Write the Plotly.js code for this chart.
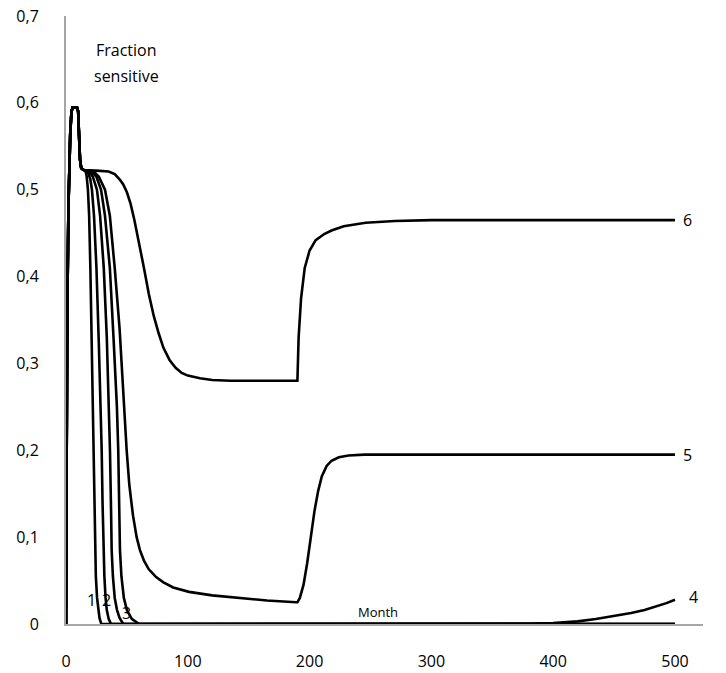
<!DOCTYPE html>
<html>
<head>
<meta charset="utf-8">
<script src="https://cdn.plot.ly/plotly-3.0.1.min.js"></script>
<style>html,body{margin:0;padding:0;background:#fff;}#chart{width:726px;height:673px;}</style>
</head>
<body>
<div id="chart"></div>
<script>
// Shared start (all curves overlap here)
const startX = [0, 0.5, 1, 2, 3, 3.5, 4.5, 5.5, 9, 10, 10.5, 11, 11.5, 12.5, 14, 16];
const startY = [0, 0.2, 0.35, 0.48, 0.54, 0.565, 0.59, 0.595, 0.595, 0.59, 0.57, 0.55, 0.535, 0.525, 0.523, 0.522];

const c1X = [17, 18, 19, 20, 21, 22, 22.4, 23, 23.8, 24.5, 25.5, 26.5, 27.5, 29, 500];
const c1Y = [0.515, 0.5, 0.47, 0.41, 0.32, 0.24, 0.2, 0.14, 0.085, 0.055, 0.03, 0.016, 0.007, 0, 0];

const c2X = [18, 20, 21.3, 23, 25, 27, 28.5, 29.3, 30, 30.6, 31.5, 32.5, 33.5, 35, 37, 500];
const c2Y = [0.52, 0.512, 0.5, 0.47, 0.41, 0.32, 0.25, 0.2, 0.14, 0.085, 0.055, 0.03, 0.016, 0.006, 0, 0];

const c3X = [19, 22, 25.4, 28, 31, 33.5, 35.3, 36.1, 37, 37.5, 38.5, 40, 41.9, 44, 47, 500];
const c3Y = [0.521, 0.515, 0.5, 0.47, 0.41, 0.33, 0.25, 0.2, 0.13, 0.085, 0.055, 0.03, 0.016, 0.007, 0, 0];

const c4X = [20, 25, 28.8, 32, 36, 39, 41.8, 42.9, 43.7, 44.3, 45.5, 47.5, 50, 54, 60, 350, 380, 400, 420, 435, 450, 464, 475, 485, 493, 500];
const c4Y = [0.522, 0.515, 0.5, 0.47, 0.41, 0.33, 0.25, 0.2, 0.14, 0.085, 0.055, 0.03, 0.016, 0.006, 0, 0, 0.0004, 0.0012, 0.003, 0.0058, 0.009, 0.0126, 0.016, 0.02, 0.024, 0.028];

const c5X = [22, 27, 32, 36, 40, 44, 47, 49.8, 52, 55, 58, 60.7, 64, 68, 74, 80, 88, 101, 120, 142, 165, 189, 190, 192, 195, 198, 201, 204, 207, 210, 214, 218, 224, 232, 245, 260, 500];
const c5Y = [0.522, 0.515, 0.5, 0.47, 0.41, 0.34, 0.26, 0.2, 0.16, 0.125, 0.1, 0.085, 0.073, 0.063, 0.054, 0.048, 0.042, 0.037, 0.033, 0.03, 0.027, 0.025, 0.025, 0.03, 0.045, 0.07, 0.1, 0.13, 0.153, 0.17, 0.182, 0.188, 0.192, 0.194, 0.195, 0.195, 0.195];

const c6X = [25, 35, 40, 44, 47, 50, 53, 56, 60, 64, 68, 72, 76, 80, 85, 90, 95, 100, 110, 120, 135, 150, 189, 190, 191, 193, 196, 200, 205, 212, 218, 228, 246, 270, 300, 500];
const c6Y = [0.522, 0.521, 0.518, 0.512, 0.506, 0.497, 0.484, 0.466, 0.44, 0.41, 0.38, 0.355, 0.335, 0.318, 0.304, 0.295, 0.289, 0.286, 0.283, 0.281, 0.28, 0.28, 0.28, 0.28, 0.33, 0.375, 0.41, 0.43, 0.442, 0.449, 0.453, 0.458, 0.462, 0.464, 0.465, 0.465];

const seriesNames = ['1', '2', '3', '4', '5', '6'];
const xTickVals = [0, 100, 200, 300, 400, 500];
const xTickText = ['0', '100', '200', '300', '400', '500'];
const yTickVals = [0, 0.1, 0.2, 0.3, 0.4, 0.5, 0.6, 0.7];
const yTickText = ['0', '0,1', '0,2', '0,3', '0,4', '0,5', '0,6', '0,7'];

// Curve label positions (data units)
const labelText = ['1', '2', '3', '4', '5', '6'];
const labelX = [21.3, 33.6, 50, 515, 510.5, 510];
const labelY = [0.028, 0.028, 0.013, 0.031, 0.195, 0.465];

const allX = [c1X, c2X, c3X, c4X, c5X, c6X];
const allY = [c1Y, c2Y, c3Y, c4Y, c5Y, c6Y];

const font = 'Open Sans, sans-serif';

const traces = allX.map((xs, i) => ({
  x: startX.concat(xs),
  y: startY.concat(allY[i]),
  type: 'scatter',
  mode: 'lines',
  name: seriesNames[i],
  line: {color: '#000', width: 2.6},
  hoverinfo: 'skip'
}));

const annotations = labelText.map((t, i) => ({
  x: labelX[i], y: labelY[i], xref: 'x', yref: 'y',
  text: t, showarrow: false,
  xanchor: 'center', yanchor: 'middle',
  font: {family: font, size: 16, color: '#000'}
}));
annotations.push({
  x: 50, y: 0.661, xref: 'x', yref: 'y',
  text: 'Fraction', showarrow: false,
  xanchor: 'center', yanchor: 'middle',
  font: {family: font, size: 16, color: '#000'}
});
annotations.push({
  x: 50, y: 0.631, xref: 'x', yref: 'y',
  text: 'sensitive', showarrow: false,
  xanchor: 'center', yanchor: 'middle',
  font: {family: font, size: 16, color: '#000'}
});
annotations.push({
  x: 256, y: 0.014, xref: 'x', yref: 'y',
  text: 'Month', showarrow: false,
  xanchor: 'center', yanchor: 'middle',
  font: {family: font, size: 13, color: '#000'}
});

const layout = {
  width: 726, height: 673,
  margin: {l: 66, r: 23, t: 16, b: 49},
  paper_bgcolor: '#fff', plot_bgcolor: '#fff',
  showlegend: false,
  annotations: annotations,
  xaxis: {
    range: [0, 523],
    tickvals: xTickVals, ticktext: xTickText,
    showgrid: false, zeroline: false,
    showline: true, linecolor: '#a6a6a6', linewidth: 1.5,
    ticks: '', ticklabelstandoff: 22,
    tickfont: {family: font, size: 16, color: '#000'}
  },
  yaxis: {
    range: [0, 0.7],
    tickvals: yTickVals, ticktext: yTickText,
    showgrid: false, zeroline: false,
    showline: true, linecolor: '#a6a6a6', linewidth: 2,
    ticks: '', ticklabelstandoff: 22,
    tickfont: {family: font, size: 16, color: '#000'}
  }
};

Plotly.newPlot('chart', traces, layout, {displayModeBar: false, staticPlot: true});
</script>
</body>
</html>
